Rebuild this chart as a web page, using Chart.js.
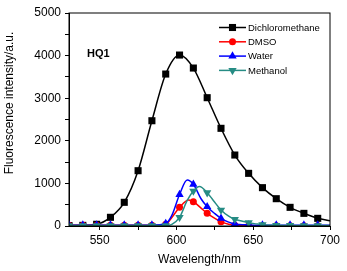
<!DOCTYPE html>
<html>
<head>
<meta charset="utf-8">
<script src="https://cdn.jsdelivr.net/npm/chart.js@4.4.1/dist/chart.umd.min.js"></script>
<style>
	html, body { margin: 0; padding: 0; background: #fff; }
	canvas { display: block; }
</style>
</head>
<body>
<canvas id="chart" width="347" height="271"></canvas>
<script>
// wavelengths that carry a symbol (every 9 nm)
const markerNm = [530, 539, 548, 557, 566, 575, 584, 593, 602, 611, 620, 629, 638, 647, 656, 665, 674, 683, 692];

const dcmNm = [530, 539, 548, 557, 566, 575, 584, 593, 602, 611, 620, 629, 638, 647, 656, 665, 674, 683, 692, 700];
const dcmVal = [10, 15, 40, 204, 556, 1298, 2471, 3567, 4013, 3708, 3012, 2293, 1666, 1236, 900, 641, 438, 297, 180, 125];

const dmsoNm = [530, 539, 548, 557, 566, 575, 584, 593, 597, 602, 608, 611, 616, 620, 625, 629, 634, 638, 647, 656, 665, 674, 683, 692, 700];
const dmsoVal = [15, 15, 15, 15, 15, 15, 15, 40, 200, 438, 610, 571, 420, 297, 180, 102, 40, 15, 8, 5, 5, 5, 5, 5, 5];

const waterNm = [530, 539, 548, 557, 566, 575, 584, 593, 597, 602, 607, 611, 616, 620, 625, 629, 634, 638, 647, 656, 665, 674, 683, 692, 700];
const waterVal = [20, 20, 20, 20, 20, 20, 20, 60, 250, 740, 1080, 980, 640, 453, 290, 180, 90, 47, 25, 20, 20, 20, 20, 20, 20];

const methNm = [530, 539, 548, 557, 566, 575, 584, 593, 597, 602, 607, 611, 615, 620, 624, 629, 634, 638, 643, 647, 652, 656, 665, 674, 683, 692, 700];
const methVal = [10, 10, 10, 10, 10, 10, 10, 10, 40, 204, 600, 821, 925, 782, 600, 375, 230, 157, 110, 78, 50, 30, 15, 12, 10, 10, 10];

const xTicks = [550, 575, 600, 625, 650, 675, 700];
const xLabels = [550, 600, 650, 700];
const yLabels = [0, 1000, 2000, 3000, 4000, 5000];

const FONT = 'Arial, "Liberation Sans", sans-serif';

function pts(xs, ys) {
	return xs.map((x, i) => ({ x: x, y: ys[i] }));
}

function series(label, xs, ys, color, style, radius, rotation, order) {
	return {
		label: label,
		data: pts(xs, ys),
		borderColor: color,
		backgroundColor: color,
		borderWidth: 1.5,
		pointStyle: style,
		pointRotation: rotation,
		markerRadius: radius,
		pointRadius: ctx => markerNm.includes(ctx.raw && ctx.raw.x) ? radius : 0,
		pointBorderWidth: 0,
		cubicInterpolationMode: 'monotone',
		order: order
	};
}

const datasets = [
	series('Dichloromethane', dcmNm, dcmVal, '#000000', 'rect', 5, 0, 3),
	series('DMSO', dmsoNm, dmsoVal, '#ff0000', 'circle', 3.5, 0, 2),
	series('Water', waterNm, waterVal, '#0000ff', 'triangle', 4.8, 0, 1),
	series('Methanol', methNm, methVal, '#268c84', 'triangle', 4.8, 180, 0)
];

// frame, legend, sample label and y title
const extras = {
	id: 'extras',
	afterDatasetsDraw(chart) {
		const { ctx, chartArea: a } = chart;
		ctx.save();
		ctx.strokeStyle = '#000';
		ctx.lineWidth = 1;
		ctx.strokeRect(a.left, a.top, a.right - a.left, a.bottom - a.top);

		ctx.fillStyle = '#000';
		ctx.textBaseline = 'middle';
		ctx.textAlign = 'left';
		ctx.font = 'bold 11px ' + FONT;
		ctx.fillText('HQ1', 87, 54);

		ctx.font = '9.5px ' + FONT;
		datasets.forEach((ds, i) => {
			const y = 27.5 + i * 14.3;
			ctx.strokeStyle = ds.borderColor;
			ctx.lineWidth = 1.5;
			ctx.beginPath();
			ctx.moveTo(219, y);
			ctx.lineTo(246, y);
			ctx.stroke();
			ctx.fillStyle = ds.borderColor;
			Chart.helpers.drawPoint(ctx, { pointStyle: ds.pointStyle, radius: ds.markerRadius, rotation: ds.pointRotation, borderWidth: 0 }, 232.5, y);
			ctx.fillStyle = '#000';
			ctx.fillText(ds.label, 248, y + 0.5);
		});

		ctx.translate(9.5, 103);
		ctx.rotate(-Math.PI / 2);
		ctx.textAlign = 'center';
		ctx.font = '12px ' + FONT;
		ctx.fillText('Fluorescence intensity/a.u.', 0, 0);
		ctx.restore();
	}
};

new Chart(document.getElementById('chart'), {
	type: 'line',
	data: { datasets: datasets },
	options: {
		responsive: false,
		animation: false,
		layout: { padding: { top: 13, right: 17, left: 0, bottom: 0 } },
		plugins: {
			legend: { display: false },
			tooltip: { enabled: false }
		},
		scales: {
			x: {
				type: 'linear',
				min: 530,
				max: 700,
				afterBuildTicks: s => { s.ticks = xTicks.map(v => ({ value: v })); },
				afterFit: s => { s.height = 45; },
				border: { display: true, color: '#000', width: 1 },
				grid: { drawOnChartArea: false, tickLength: 4, color: '#000', tickColor: '#000' },
				ticks: {
					color: '#000',
					font: { family: FONT, size: 12 },
					padding: 3,
					maxRotation: 0,
					autoSkip: false,
					callback: v => xLabels.includes(v) ? String(v) : ''
				},
				title: {
					display: true,
					text: 'Wavelength/nm',
					color: '#000',
					font: { family: FONT, size: 12 },
					padding: { top: 2, bottom: 4 }
				}
			},
			y: {
				min: 0,
				max: 5000,
				afterFit: s => { s.width = 69; },
				border: { display: true, color: '#000', width: 1 },
				grid: { drawOnChartArea: false, tickLength: 4, color: '#000', tickColor: '#000' },
				ticks: {
					stepSize: 500,
					color: '#000',
					font: { family: FONT, size: 12 },
					padding: 4,
					autoSkip: false,
					callback: v => yLabels.includes(v) ? String(v) : ''
				}
			}
		}
	},
	plugins: [extras]
});
</script>
</body>
</html>
